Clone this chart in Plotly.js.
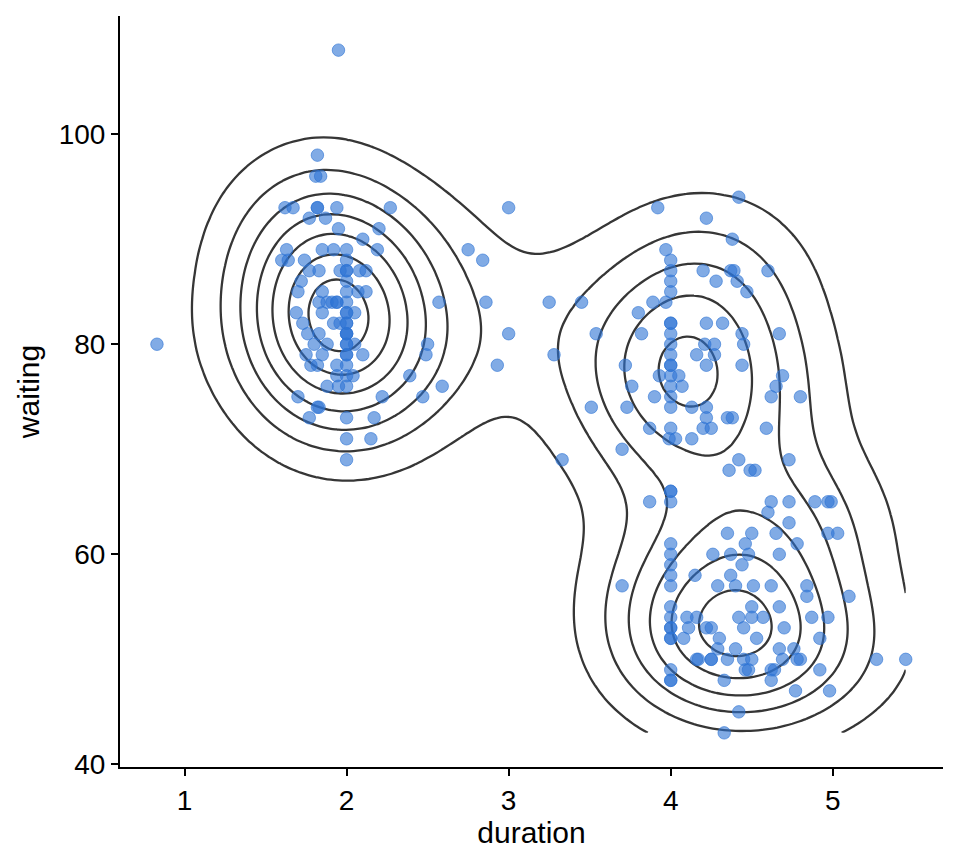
<!DOCTYPE html>
<html>
<head>
<meta charset="utf-8">
<script src="https://cdn.plot.ly/plotly-3.0.1.min.js"></script>
<style>html,body{margin:0;padding:0;background:#fff;}#chart{width:960px;height:864px;}</style>
</head>
<body>
<div id="chart"></div>
<script>
// Geyser eruptions: values (grouped by waiting time)
const duration = [
  // outliers
  0.83, 1.95,
  // short-eruption cluster
  1.82,
  1.81, 1.84,
  1.62, 1.67, 1.82, 1.82, 1.94, 2.27,
  1.77, 1.87,
  1.95, 2.2,
  2.1,
  1.63, 1.85, 1.92, 2.0, 2.19,
  1.64, 1.74, 2.0, 1.6,
  1.77, 1.83, 1.96, 2.0, 2.0, 2.08, 2.12,
  1.72, 2.0,
  1.7, 2.0, 2.07, 2.12, 1.85,
  1.83, 1.88, 1.91, 1.94, 1.94, 2.0, 2.57,
  1.69, 1.85, 2.0, 2.0, 2.05,
  1.73, 1.92, 1.96, 2.0, 2.0,
  1.76, 1.83, 2.0, 2.0, 2.0,
  1.8, 1.88, 2.0, 2.0, 2.05, 2.5,
  1.75, 1.85, 2.0, 2.0, 2.1, 2.49,
  1.78, 1.82, 1.94, 2.0,
  1.94, 2.0, 2.04, 2.39,
  1.88, 1.95, 2.0, 2.59,
  1.7, 2.22, 2.47,
  1.82, 1.83,
  1.77, 2.0, 2.17,
  2.0, 2.15,
  2.0,
  // between clusters
  2.75, 2.84, 2.86, 3.0, 3.0, 2.93, 3.25, 3.28, 3.33, 3.45, 3.54, 3.51,
  // long eruptions, long waiting
  4.42,
  3.92,
  4.22,
  4.38,
  3.97,
  4.0,
  4.0, 4.2, 4.37, 4.39, 4.6,
  4.0, 4.28, 4.41,
  4.0, 4.47,
  3.89, 3.97,
  3.8,
  4.0, 4.0, 4.22, 4.32,
  3.82, 4.0, 4.44, 4.67,
  4.0, 4.21, 4.27, 4.45,
  4.0, 4.16, 4.27,
  4.0, 4.0, 3.72, 4.22, 4.44,
  4.0, 3.93, 4.69, 4.05,
  4.0, 4.07, 3.76, 4.65,
  4.0, 3.9, 4.62, 4.8,
  4.0, 3.73, 4.13, 4.22,
  4.22, 4.35, 4.38,
  3.87, 4.0, 4.2, 4.25, 4.59,
  3.99, 4.03, 4.13,
  3.7,
  4.42, 4.73,
  4.36, 4.49, 4.52,
  // long eruptions, short waiting
  4.0, 4.0,
  4.0, 3.87, 4.62, 4.73, 4.89, 4.97, 4.99,
  4.6,
  4.73,
  4.35, 4.5, 4.65, 4.97, 5.03,
  4.0, 4.46, 4.78,
  4.0, 4.26, 4.37, 4.48, 4.67,
  4.0, 4.44,
  4.0, 4.15, 4.37,
  4.0, 3.7, 4.29, 4.4, 4.51, 4.62, 4.84,
  4.84, 5.1,
  4.0, 4.5, 4.67,
  4.0, 4.1, 4.16, 4.42, 4.5, 4.57, 4.87, 4.97,
  4.0, 4.0, 4.11, 4.22, 4.45, 4.7, 4.25,
  4.0, 4.0, 4.08, 4.53, 4.92, 4.3,
  4.29, 4.67, 4.76, 4.4,
  4.16, 4.17, 4.25, 4.25, 4.35, 4.45, 4.5, 4.69, 4.78, 4.8, 5.27, 5.45,
  4.0, 4.46, 4.48, 4.62, 4.64, 4.92,
  4.0, 4.0, 4.33, 4.62,
  4.77, 4.98,
  4.42,
  4.33
];
const waiting = [
  80, 108,
  98,
  96, 96,
  93, 93, 93, 93, 93, 93,
  92, 92,
  91, 91,
  90,
  89, 89, 89, 89, 89,
  88, 88, 88, 88,
  87, 87, 87, 87, 87, 87, 87,
  86, 86,
  85, 85, 85, 85, 85,
  84, 84, 84, 84, 84, 84, 84,
  83, 83, 83, 83, 83,
  82, 82, 82, 82, 82,
  81, 81, 81, 81, 81,
  80, 80, 80, 80, 80, 80,
  79, 79, 79, 79, 79, 79,
  78, 78, 78, 78,
  77, 77, 77, 77,
  76, 76, 76, 76,
  75, 75, 75,
  74, 74,
  73, 73, 73,
  71, 71,
  69,
  89, 88, 84, 93, 81, 78, 84, 79, 69, 84, 81, 74,
  94,
  93,
  92,
  90,
  89,
  88,
  87, 87, 87, 87, 87,
  86, 86, 86,
  85, 85,
  84, 84,
  83,
  82, 82, 82, 82,
  81, 81, 81, 81,
  80, 80, 80, 80,
  79, 79, 79,
  78, 78, 78, 78, 78,
  77, 77, 77, 77,
  76, 76, 76, 76,
  75, 75, 75, 75,
  74, 74, 74, 74,
  73, 73, 73,
  72, 72, 72, 72, 72,
  71, 71, 71,
  70,
  69, 69,
  68, 68, 68,
  66, 66,
  65, 65, 65, 65, 65, 65, 65,
  64,
  63,
  62, 62, 62, 62, 62,
  61, 61, 61,
  60, 60, 60, 60, 60,
  59, 59,
  58, 58, 58,
  57, 57, 57, 57, 57, 57, 57,
  56, 56,
  55, 55, 55,
  54, 54, 54, 54, 54, 54, 54, 54,
  53, 53, 53, 53, 53, 53, 53,
  52, 52, 52, 52, 52, 52,
  51, 51, 51, 51,
  50, 50, 50, 50, 50, 50, 50, 50, 50, 50, 50, 50,
  49, 49, 49, 49, 49, 49,
  48, 48, 48, 48,
  47, 47,
  45,
  43
];
const xTicks = [1, 2, 3, 4, 5];
const yTicks = [40, 60, 80, 100];

// ---- 2D kernel density (as MASS::kde2d with bandwidth.nrd, 100x100 grid) ----
function quantile(sorted, p) {
  const h = (sorted.length - 1) * p, lo = Math.floor(h), hi = Math.ceil(h);
  return sorted[lo] + (h - lo) * (sorted[hi] - sorted[lo]);
}
function bandwidthNrd(v) {
  const n = v.length, s = v.slice().sort((a, b) => a - b);
  const mean = v.reduce((a, b) => a + b, 0) / n;
  const sd = Math.sqrt(v.reduce((a, b) => a + (b - mean) * (b - mean), 0) / (n - 1));
  const iqr = quantile(s, 0.75) - quantile(s, 0.25);
  return 4 * 1.06 * Math.min(sd, iqr / 1.34) * Math.pow(n, -0.2);
}
function pretty(lo, hi, n) {
  const h = 1.5, h5 = 0.5 + 1.5 * h;
  const cell = (hi - lo) / n;
  const U = Math.pow(10, Math.floor(Math.log10(cell)));
  let unit = U, ns;
  if ((ns = 2 * U) - cell < h * (cell - unit)) { unit = ns;
    if ((ns = 5 * U) - cell < h5 * (cell - unit)) { unit = ns;
      if ((ns = 10 * U) - cell < h * (cell - unit)) unit = ns; } }
  const a = Math.floor(lo / unit + 1e-7), b = Math.ceil(hi / unit - 1e-7);
  const out = [];
  for (let k = a; k <= b; k++) out.push(k * unit);
  return {breaks: out, unit: unit};
}
const N = duration.length, G = 100;
const hx = bandwidthNrd(duration) / 4, hy = bandwidthNrd(waiting) / 4;
const xmin = Math.min(...duration), xmax = Math.max(...duration);
const ymin = Math.min(...waiting), ymax = Math.max(...waiting);
const gx = [], gy = [];
for (let i = 0; i < G; i++) { gx.push(xmin + (xmax - xmin) * i / (G - 1)); gy.push(ymin + (ymax - ymin) * i / (G - 1)); }
const phi = u => Math.exp(-0.5 * u * u) / Math.sqrt(2 * Math.PI);
const ax = gx.map(g => duration.map(d => phi((g - d) / hx)));
const ay = gy.map(g => waiting.map(w => phi((g - w) / hy)));
const z = [];
let zmax = 0;
for (let j = 0; j < G; j++) {
  const row = [];
  for (let i = 0; i < G; i++) {
    let s = 0;
    for (let k = 0; k < N; k++) s += ax[i][k] * ay[j][k];
    s /= N * hx * hy;
    row.push(s);
    if (s > zmax) zmax = s;
  }
  z.push(row);
}
const pb = pretty(0, zmax, 10);

const tickFont = {family: 'Liberation Sans, Arial, sans-serif', size: 28, color: '#000'};
const titleFont = {family: 'Liberation Sans, Arial, sans-serif', size: 30, color: '#000'};
const traces = [
  {
    type: 'scatter', mode: 'markers', x: duration, y: waiting, hoverinfo: 'skip',
    marker: {size: 12.5, color: 'rgba(45,115,212,0.6)', line: {width: 1, color: 'rgba(45,115,212,0.6)'}}
  },
  {
    type: 'contour', x: gx, y: gy, z: z, showscale: false, hoverinfo: 'skip',
    autocontour: false,
    contours: {coloring: 'none', start: pb.unit, end: pb.breaks[pb.breaks.length - 1], size: pb.unit, showlabels: false},
    line: {color: '#363636', width: 2.3, smoothing: 1}
  }
];
const layout = {
  width: 960, height: 864,
  margin: {l: 120, r: 17, t: 16, b: 97},
  paper_bgcolor: '#fff', plot_bgcolor: '#fff',
  showlegend: false,
  font: tickFont,
  xaxis: {
    range: [0.602, 5.68], tickvals: xTicks, ticktext: xTicks.map(String),
    showgrid: false, zeroline: false, showline: true, linecolor: '#000', linewidth: 2,
    ticks: 'outside', ticklen: 7, tickwidth: 2, tickcolor: '#000', tickfont: tickFont,
    title: {text: 'duration', font: titleFont, standoff: 6}
  },
  yaxis: {
    range: [39.75, 111.25], tickvals: yTicks, ticktext: yTicks.map(String),
    showgrid: false, zeroline: false, showline: true, linecolor: '#000', linewidth: 2,
    ticks: 'outside', ticklen: 7, tickwidth: 2, tickcolor: '#000', tickfont: tickFont,
    title: {text: 'waiting', font: titleFont, standoff: 10}
  }
};
Plotly.newPlot('chart', traces, layout, {displayModeBar: false, staticPlot: true});
</script>
</body>
</html>
